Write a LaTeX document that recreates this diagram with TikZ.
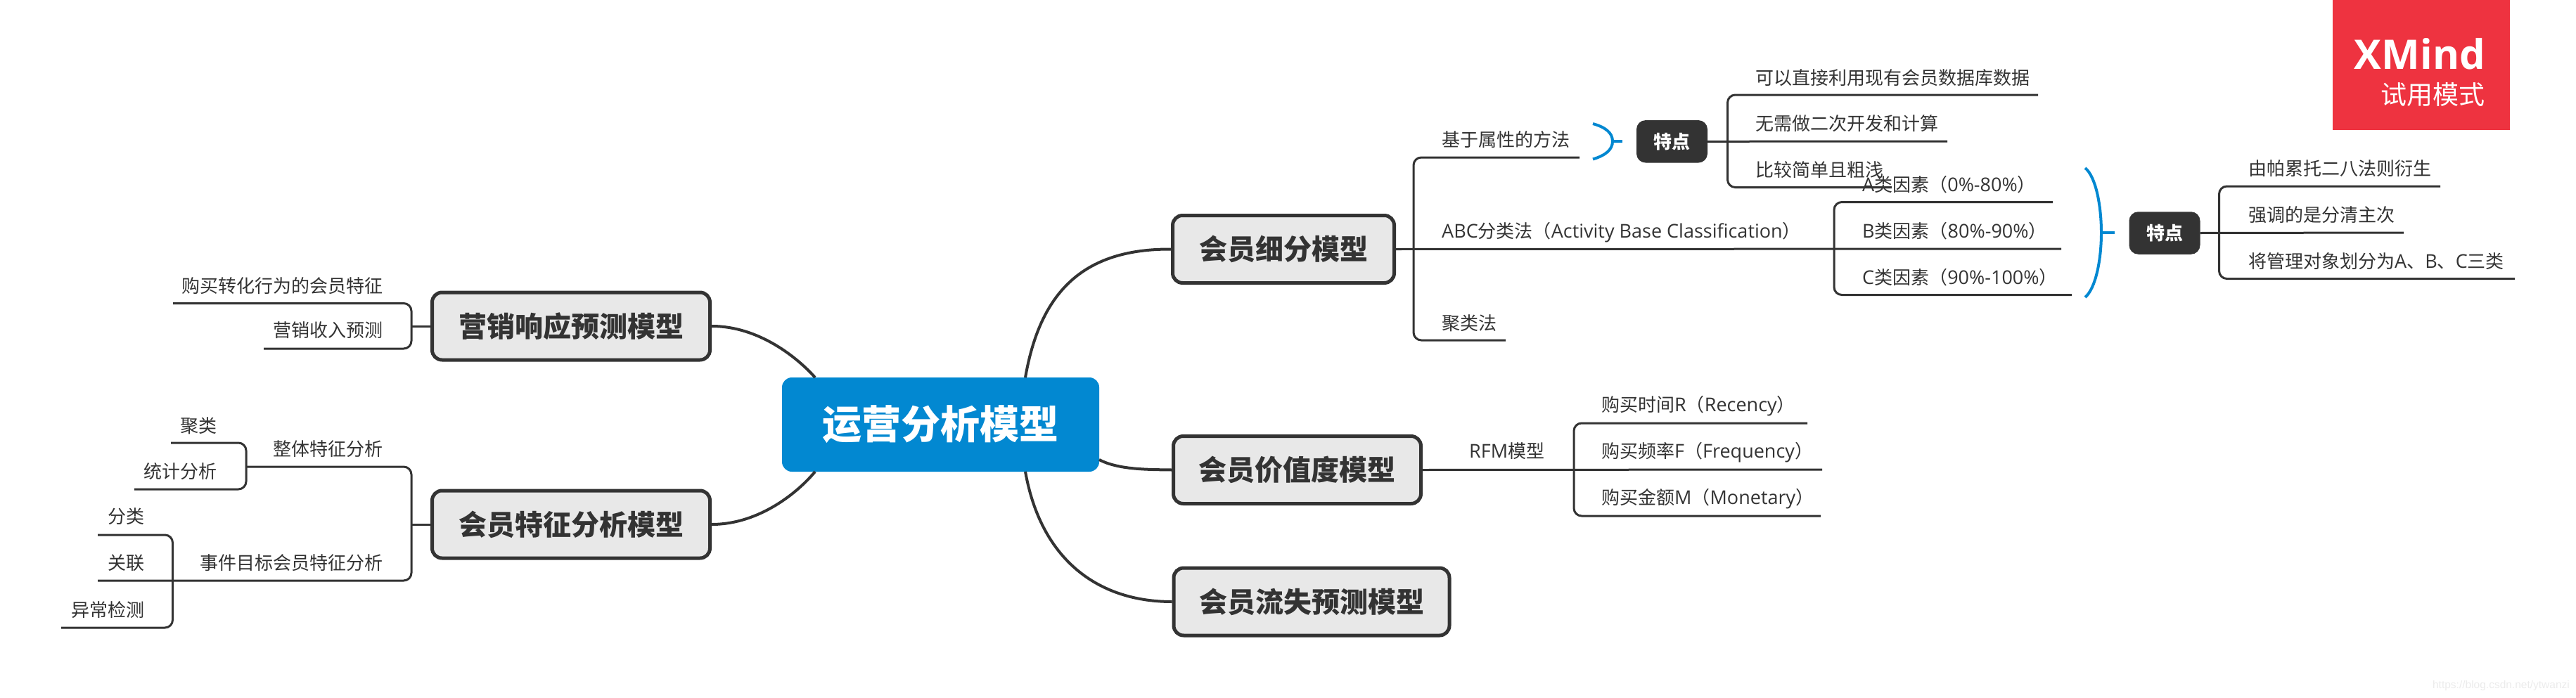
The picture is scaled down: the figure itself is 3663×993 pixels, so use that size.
\documentclass[tikz,border=0pt]{standalone}
\usepackage{fontspec}
\setmainfont{Noto Sans CJK SC}
\newfontfamily\latf{Open Sans}
\newfontfamily\wmf{Liberation Sans}
\definecolor{ink}{HTML}{333333}
\definecolor{hub}{HTML}{0288D1}
\definecolor{topicfill}{HTML}{E8E8E8}
\definecolor{trial}{HTML}{EE3340}
\newcommand{\lat}[1]{{\latf\fontsize{27}{30}\selectfont #1}}
\tikzset{
  mainline/.style={draw=ink,line width=4pt},
  branchline/.style={draw=ink,line width=3pt,rounded corners=11pt,line cap=butt},
  bracketline/.style={draw=hub,line width=4pt},
  hubbox/.style={fill=hub,rounded corners=14pt,inner sep=0pt,text=white,font=\fontsize{56}{60}\selectfont\bfseries,minimum height=134pt,minimum width=451pt},
  topicbox/.style={fill=topicfill,draw=ink,line width=5pt,rounded corners=14pt,inner sep=0pt,text=ink,font=\fontsize{40}{44}\selectfont\bfseries,minimum height=96pt},
  tagbox/.style={fill=ink,rounded corners=13pt,inner sep=0pt,text=white,font=\fontsize{26}{30}\selectfont\bfseries,minimum width=101pt,minimum height=60.5pt},
  leaf/.style={inner sep=0pt,text=ink,font=\fontsize{26}{30}\selectfont},
  leafL/.style={leaf,anchor=base west},
  leafR/.style={leaf,anchor=base east},
}
\begin{document}
\begin{tikzpicture}[x=1pt,y=-1pt]
\useasboundingbox (0,0) rectangle (3663,993);
% hub and topics
\node[hubbox] (hubn) at (1337.5,604) {运营分析模型};
\node[topicbox,minimum width=315pt] (seg) at (1825,354.5) {会员细分模型};
\node[topicbox,minimum width=352pt] (val) at (1844.5,668.5) {会员价值度模型};
\node[topicbox,minimum width=392pt] (chu) at (1865,856) {会员流失预测模型};
\node[topicbox,minimum width=395pt] (res) at (812,464) {营销响应预测模型};
\node[topicbox,minimum width=395pt] (fea) at (812,746) {会员特征分析模型};
\coordinate (hubTR) at (1458,537);
\coordinate (hubBR) at (1458,671);
\coordinate (hubTL) at (1159,537);
\coordinate (hubBL) at (1159,671);
\coordinate (hubER) at (1563,654);
\draw[mainline] (hubTR) .. controls (1480,410) and (1545,354) .. (seg.west);
\draw[mainline] (hubER) .. controls (1590,668) and (1630,668) .. (val.west);
\draw[mainline] (hubBR) .. controls (1480,795) and (1560,856) .. (chu.west);
\draw[mainline] (hubTL) .. controls (1135,510) and (1080,464) .. (res.east);
\draw[mainline] (hubBL) .. controls (1135,700) and (1080,746) .. (fea.east);
% tags
\node[tagbox] (tagA) at (2377.5,201.3) {特点};
\node[tagbox] (tagB) at (3078,331.5) {特点};
% segment branch
\coordinate (vSeg) at (2010,354);
\coordinate (attrE) at (2246,224);
\coordinate (clusE) at (2141,484);
\coordinate (abcE) at (2931,354);
\draw[branchline] (attrE) -- (attrE-|vSeg) -- (clusE-|vSeg) -- (clusE);
\draw[branchline] (seg.east) -- (abcE);
% attribute tag branch
\coordinate (vAttr) at (2456.5,201);
\coordinate (a1E) at (2898,135);
\coordinate (a2E) at (2769,201);
\coordinate (a3E) at (2690,266.5);
\draw[branchline] (a1E) -- (a1E-|vAttr) -- (a3E-|vAttr) -- (a3E);
\draw[branchline] (tagA.east) -- (a2E);
% ABC branch
\coordinate (vAbc) at (2608,354);
\coordinate (b1E) at (2919,287.5);
\coordinate (b3E) at (2946,419.5);
\draw[branchline] (b1E) -- (b1E-|vAbc) -- (b3E-|vAbc) -- (b3E);
% ABC tag branch
\coordinate (vTag) at (3155.5,331);
\coordinate (c1E) at (3470,265);
\coordinate (c2E) at (3418,331);
\coordinate (c3E) at (3576,396.5);
\draw[branchline] (c1E) -- (c1E-|vTag) -- (c3E-|vTag) -- (c3E);
\draw[branchline] (tagB.east) -- (c2E);
% brackets
\coordinate (brA) at (2293,201);
\coordinate (brAt) at (2307,201);
\coordinate (brAu) at (2265,176);
\coordinate (brAd) at (2265,226.5);
\draw[bracketline] (brAu) .. controls (2283,181) and (2293,189) .. (brA) .. controls (2293,213) and (2283,221) .. (brAd);
\draw[bracketline] (brA) -- (brAt);
\coordinate (brB) at (2988,331);
\coordinate (brBt) at (3007,331);
\coordinate (brBu) at (2965,239);
\coordinate (brBd) at (2965,423);
\draw[bracketline] (brBu) .. controls (2980,251) and (2988,292) .. (brB) .. controls (2988,370) and (2980,410) .. (brBd);
\draw[bracketline] (brB) -- (brBt);
% value branch
\coordinate (vVal) at (2238,668);
\coordinate (r1E) at (2570,602);
\coordinate (r2E) at (2591,668);
\coordinate (r3E) at (2589,734);
\draw[branchline] (r1E) -- (r1E-|vVal) -- (r3E-|vVal) -- (r3E);
\draw[branchline] (val.east) -- (r2E);
% response branch
\coordinate (vRes) at (585,464);
\coordinate (p1E) at (246,431.5);
\coordinate (p2E) at (375,496);
\draw[branchline] (p1E) -- (p1E-|vRes) -- (p2E-|vRes) -- (p2E);
\draw[branchline] (res.west) -- (vRes);
% feature branch
\coordinate (vFea) at (585,746);
\coordinate (f1S) at (350,664);
\coordinate (f2E) at (139,826);
\draw[branchline] (f1S) -- (f1S-|vFea) -- (f2E-|vFea) -- (f2E);
\draw[branchline] (fea.west) -- (vFea);
\coordinate (g1E) at (243,630);
\coordinate (g2E) at (191,696);
\draw[branchline] (g1E) -- (g1E-|f1S) -- (g2E-|f1S) -- (g2E);
\coordinate (vEvt) at (245.5,826);
\coordinate (h1E) at (139,761);
\coordinate (h3E) at (87,893);
\draw[branchline] (h1E) -- (h1E-|vEvt) -- (h3E-|vEvt) -- (h3E);
% right leaves
\node[leafL] (t01) at (2050,208) {基于属性的方法};
\node[leafL] (t02) at (2050,338) {\lat{ABC}分类法（\lat{Activity Base Classification}）};
\node[leafL] (t03) at (2050,469) {聚类法};
\node[leafL] (t04) at (2496,120) {可以直接利用现有会员数据库数据};
\node[leafL] (t05) at (2496,185) {无需做二次开发和计算};
\node[leafL] (t06) at (2496,251) {比较简单且粗浅};
\node[leafL] (t07) at (2648,272) {\lat{A}类因素（\lat{0\%-80\%}）};
\node[leafL] (t08) at (2648,338) {\lat{B}类因素（\lat{80\%-90\%}）};
\node[leafL] (t09) at (2648,404) {\lat{C}类因素（\lat{90\%-100\%}）};
\node[leafL] (t10) at (3197,249) {由帕累托二八法则衍生};
\node[leafL] (t11) at (3197,315) {强调的是分清主次};
\node[leafL] (t12) at (3197,381) {将管理对象划分为\lat{A}、\lat{B}、\lat{C}三类};
\node[leafL] (t13) at (2089,651) {\lat{RFM}模型};
\node[leafL] (t14) at (2277,585) {购买时间\lat{R}（\lat{Recency}）};
\node[leafL] (t15) at (2277,651) {购买频率\lat{F}（\lat{Frequency}）};
\node[leafL] (t16) at (2277,717) {购买金额\lat{M}（\lat{Monetary}）};
% left leaves
\node[leafR] (t20) at (545,416) {购买转化行为的会员特征};
\node[leafR] (t21) at (545,479.5) {营销收入预测};
\node[leafR] (t22) at (545,648) {整体特征分析};
\node[leafR] (t23) at (545,810.5) {事件目标会员特征分析};
\node[leafR] (t24) at (309,615) {聚类};
\node[leafR] (t25) at (309,680) {统计分析};
\node[leafR] (t26) at (206,744.5) {分类};
\node[leafR] (t27) at (206,810.5) {关联};
\node[leafR] (t28) at (206,877) {异常检测};
% trial badge
\fill[trial] (3317,0) rectangle (3569,185);
\node[inner sep=0pt,anchor=base east,text=white,font=\latf\fontsize{58}{60}\selectfont\bfseries] (xm) at (3534,98) {XMind};
\node[inner sep=0pt,anchor=base east,text=white,font=\fontsize{37}{40}\selectfont] (tr) at (3534,148) {试用模式};
% watermark
\node[inner sep=0pt,anchor=base east,text=black!8,font=\wmf\fontsize{15.5}{18}\selectfont] (wm) at (3654,979) {https://blog.csdn.net/ytwanzi};
\end{tikzpicture}
\end{document}
